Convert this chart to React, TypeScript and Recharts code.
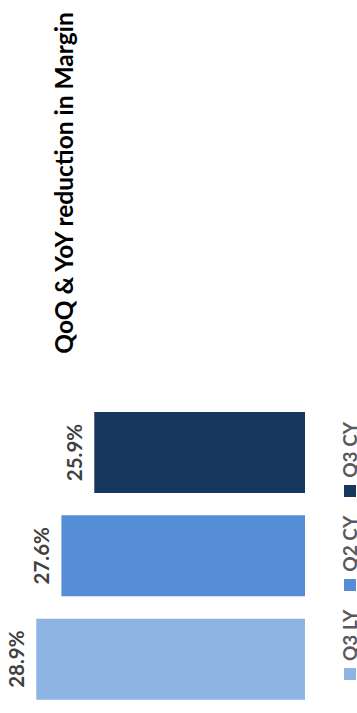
import { BarChart, Bar, XAxis, YAxis, Cell, LabelList } from "recharts";

const categories = ["Q3 LY", "Q2 CY", "Q3 CY"];
const margins = [28.9, 27.6, 25.9];
const barColors = ["#8EB4E3", "#558ED5", "#17375E"];

const data = categories.map((name, i) => ({ name, value: margins[i] }));

const FONT = "Lato, 'Open Sans', sans-serif";

// the whole chart reads turned a quarter left, so the bars run right-to-left
// and every text is rotated -90deg
const SideLabel = (props: any) => {
  const { x, y, width, height, value } = props;
  const left = Math.min(x, x + width);
  const tx = left - 12;
  const ty = y + height / 2;
  return (
    <text
      x={tx}
      y={ty}
      transform={`rotate(-90, ${tx}, ${ty})`}
      textAnchor="middle"
      fill="#404040"
      fontSize={20.5}
      fontWeight={700}
      fontFamily={FONT}>
      {`${Number(value).toFixed(1)}%`}
    </text>
  );
};

const turned = (left: number, top: number): React.CSSProperties => ({
  position: "absolute",
  left,
  top,
  transformOrigin: "0 0",
  transform: "rotate(-90deg)",
  whiteSpace: "nowrap",
});

export default function App() {
  return (
    <div
      style={{
        position: "fixed",
        top: 0,
        left: 0,
        width: 357,
        height: 713,
        overflow: "hidden",
        background: "#fff",
      }}>
      <BarChart
        width={357}
        height={713}
        data={data}
        layout="vertical"
        margin={{ top: 401, right: 52, bottom: 2, left: 15 }}>
        <XAxis type="number" hide domain={[15, 30]} reversed allowDataOverflow />
        <YAxis type="category" dataKey="name" hide reversed />
        <Bar dataKey="value" barSize={81} isAnimationActive={false}>
          {data.map((entry, index) => (
            <Cell key={`cell-${index}`} fill={barColors[index]} />
          ))}
          <LabelList dataKey="value" content={<SideLabel />} />
        </Bar>
      </BarChart>

      <div
        style={{
          ...turned(49, 383),
          width: 400,
          textAlign: "center",
          fontFamily: FONT,
          fontSize: 24.5,
          fontWeight: 700,
          color: "#000",
        }}>
        QoQ &amp; YoY reduction in Margin
      </div>

      <div
        style={{
          ...turned(338, 680),
          display: "flex",
          alignItems: "center",
          gap: 19,
          fontFamily: FONT,
          fontSize: 19,
          fontWeight: 700,
          color: "#595959",
        }}>
        {categories.map((name, i) => (
          <div key={name} style={{ display: "flex", alignItems: "center", gap: 7 }}>
            <span
              style={{
                width: 12,
                height: 12,
                background: barColors[i],
                display: "inline-block",
              }}
            />
            <span>{name}</span>
          </div>
        ))}
      </div>
    </div>
  );
}
